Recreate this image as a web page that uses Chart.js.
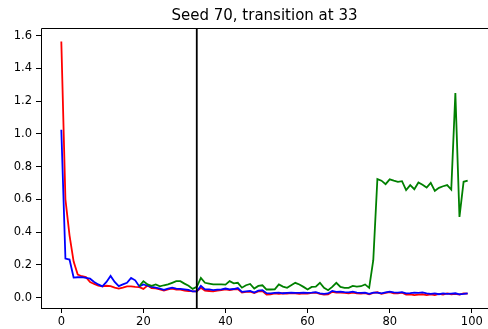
<!DOCTYPE html>
<html>
<head>
<meta charset="utf-8">
<script src="https://cdn.jsdelivr.net/npm/chart.js@4/dist/chart.umd.min.js"></script>
<style>
  html, body { margin: 0; padding: 0; background: #ffffff; }
  #wrap { width: 488px; height: 329px; }
</style>
</head>
<body>
<div id="wrap"><canvas id="c" width="488" height="329"></canvas></div>
<script>
const chartTitle = "Seed 70, transition at 33";
const transitionAt = 33;
const xTickValues = [0, 20, 40, 60, 80, 100];
const yTickValues = [0.0, 0.2, 0.4, 0.6, 0.8, 1.0, 1.2, 1.4, 1.6];

const redSeries = [
  1.565, 0.6, 0.38, 0.22, 0.14, 0.13, 0.125, 0.095, 0.083, 0.073,
  0.068, 0.072, 0.07, 0.06, 0.055, 0.06, 0.068, 0.068, 0.065, 0.064,
  0.053, 0.073, 0.057, 0.056, 0.05, 0.042, 0.05, 0.054, 0.048, 0.048,
  0.042, 0.04, 0.037, 0.038, 0.06, 0.042, 0.04, 0.038, 0.042, 0.045,
  0.05, 0.046, 0.05, 0.052, 0.03, 0.035, 0.036, 0.028, 0.038, 0.04,
  0.018, 0.02, 0.025, 0.022, 0.026, 0.024, 0.027, 0.025, 0.022, 0.026,
  0.024, 0.028, 0.03, 0.022, 0.018, 0.02, 0.035, 0.03, 0.03, 0.028,
  0.026, 0.03, 0.025, 0.024, 0.027, 0.02, 0.028, 0.032, 0.022, 0.028,
  0.033, 0.025, 0.026, 0.03, 0.018, 0.02, 0.015, 0.018, 0.02, 0.015,
  0.02, 0.015, 0.022, 0.018, 0.025, 0.02, 0.022, 0.018, 0.025, 0.024
];

const blueSeries = [
  1.025, 0.238, 0.232, 0.122, 0.124, 0.125, 0.12, 0.115, 0.095, 0.08,
  0.068, 0.095, 0.132, 0.095, 0.07, 0.08, 0.09, 0.12, 0.105, 0.068,
  0.08, 0.072, 0.065, 0.06, 0.055, 0.047, 0.055, 0.06, 0.055, 0.053,
  0.05, 0.047, 0.037, 0.037, 0.071, 0.05, 0.05, 0.045, 0.048, 0.05,
  0.055, 0.05, 0.052, 0.058, 0.035, 0.038, 0.04, 0.03, 0.042, 0.045,
  0.027, 0.025, 0.028, 0.03, 0.026, 0.028, 0.03, 0.028, 0.028, 0.03,
  0.028, 0.03, 0.033, 0.026, 0.022, 0.025, 0.04, 0.035, 0.036, 0.033,
  0.032, 0.036, 0.03, 0.028, 0.03, 0.023, 0.03, 0.03, 0.025, 0.032,
  0.036, 0.032, 0.03, 0.033, 0.025, 0.027, 0.03, 0.028, 0.031, 0.026,
  0.022, 0.025, 0.02, 0.025, 0.022, 0.024, 0.026, 0.02, 0.022, 0.026
];

const greenStart = 19;
const greenSeries = [
  0.07, 0.1, 0.08, 0.072, 0.08, 0.068, 0.075, 0.08, 0.09, 0.1,
  0.1, 0.085, 0.072, 0.053, 0.065, 0.12, 0.09, 0.085, 0.08, 0.08,
  0.08, 0.079, 0.1, 0.087, 0.09, 0.06, 0.075, 0.083, 0.055, 0.071,
  0.075, 0.049, 0.049, 0.05, 0.08, 0.067, 0.059, 0.075, 0.09, 0.08,
  0.065, 0.049, 0.065, 0.067, 0.09, 0.059, 0.045, 0.065, 0.09, 0.065,
  0.059, 0.059, 0.071, 0.067, 0.069, 0.08, 0.059, 0.228, 0.724, 0.714,
  0.693, 0.722, 0.714, 0.707, 0.711, 0.656, 0.687, 0.662, 0.703, 0.689,
  0.672, 0.701, 0.652, 0.67, 0.68, 0.687, 0.66, 1.25, 0.493, 0.707,
  0.714
];

const toPoints = (arr, start) => arr.map((v, i) => ({ x: start + i, y: v }));

const frame = {
  id: 'frame',
  afterDatasetsDraw(chart) {
    const { ctx, chartArea: a, scales } = chart;
    ctx.save();
    const xp = scales.x.getPixelForValue(transitionAt);
    ctx.strokeStyle = '#000000';
    ctx.lineWidth = 1.8;
    ctx.beginPath();
    ctx.moveTo(xp, a.top);
    ctx.lineTo(xp, a.bottom);
    ctx.stroke();
    ctx.lineWidth = 1;
    ctx.beginPath();
    ctx.moveTo(a.left + 0.5, a.bottom);
    ctx.lineTo(a.left + 0.5, a.top + 0.5);
    ctx.lineTo(a.right + 2, a.top + 0.5);
    ctx.moveTo(a.left, a.bottom + 0.5);
    ctx.lineTo(a.right + 2, a.bottom + 0.5);
    ctx.stroke();
    ctx.restore();
  }
};

new Chart(document.getElementById('c'), {
  type: 'line',
  data: {
    datasets: [
      { label: 'red', data: toPoints(redSeries, 0), borderColor: '#ff0000', borderWidth: 1.8, pointRadius: 0, order: 2 },
      { label: 'blue', data: toPoints(blueSeries, 0), borderColor: '#0000ff', borderWidth: 1.8, pointRadius: 0, order: 1 },
      { label: 'green', data: toPoints(greenSeries, greenStart), borderColor: '#008000', borderWidth: 1.8, pointRadius: 0, order: 0 }
    ]
  },
  options: {
    responsive: false,
    animation: false,
    devicePixelRatio: 1,
    layout: { padding: { left: 0, right: 0, top: 0, bottom: 0 } },
    plugins: {
      legend: { display: false },
      tooltip: { enabled: false },
      title: {
        display: true,
        text: chartTitle,
        fullSize: false,
        color: '#000000',
        font: { family: 'DejaVu Sans', size: 15, weight: 'normal', lineHeight: 1.2 },
        padding: { top: 7, bottom: 3 }
      }
    },
    scales: {
      x: {
        type: 'linear',
        min: -4.95,
        max: 103.95,
        afterBuildTicks: s => { s.ticks = xTickValues.map(v => ({ value: v })); },
        afterFit: s => { s.height = 21; },
        grid: { display: true, drawOnChartArea: false, drawTicks: true, tickLength: 5, tickWidth: 1, tickColor: '#000000' },
        border: { display: false },
        ticks: { color: '#000000', padding: 2.5, maxRotation: 0, autoSkip: false, font: { family: 'DejaVu Sans', size: 11.5 } }
      },
      y: {
        type: 'linear',
        min: -0.064,
        max: 1.647,
        afterBuildTicks: s => { s.ticks = yTickValues.map(v => ({ value: v })); },
        afterFit: s => { s.width = 41; },
        grid: { display: true, drawOnChartArea: false, drawTicks: true, tickLength: 5, tickWidth: 1, tickColor: '#000000' },
        border: { display: false },
        ticks: { color: '#000000', padding: 4, autoSkip: false, font: { family: 'DejaVu Sans', size: 11.5 }, callback: v => Number(v).toFixed(1) }
      }
    }
  },
  plugins: [frame]
});
</script>
</body>
</html>
